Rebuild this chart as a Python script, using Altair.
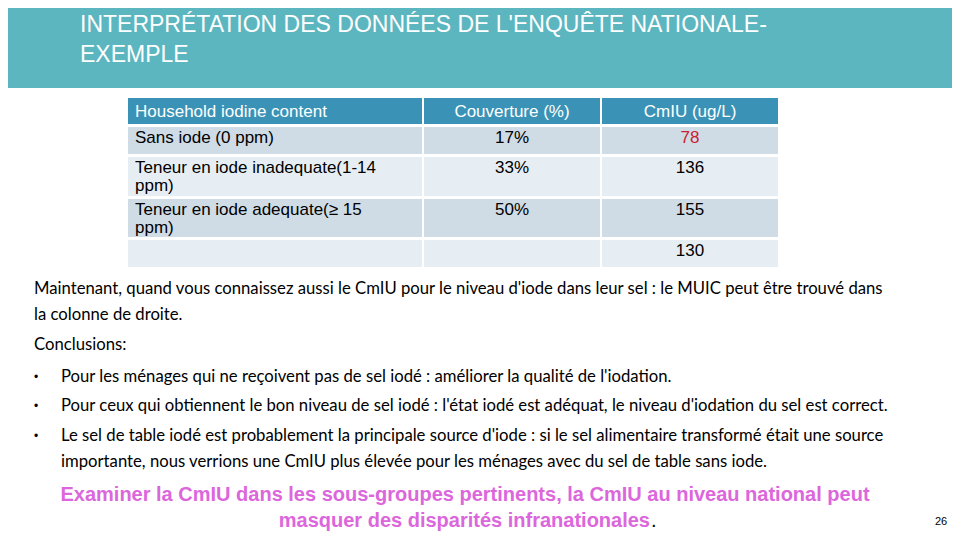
import altair as alt
import pandas as pd

# ---------------- data ----------------
title_lines = ["INTERPRÉTATION DES DONNÉES DE L'ENQUÊTE NATIONALE-", "EXEMPLE"]
header = ["Household iodine content", "Couverture (%)", "CmIU (ug/L)"]
categories = [["Sans iode (0 ppm)"],
              ["Teneur en iode inadequate(1-14", "ppm)"],
              ["Teneur en iode adequate(≥ 15", "ppm)"],
              [""]]
coverage = ["17%", "33%", "50%", ""]
cmiu = ["78", "136", "155", "130"]
cmiu_highlight = [True, False, False, False]

paragraph = [
    "Maintenant, quand vous connaissez aussi le CmIU pour le niveau d'iode dans leur sel : le MUIC peut être trouvé dans",
    "la colonne de droite.",
    "Conclusions:",
]
bullets = [
    ["Pour les ménages qui ne reçoivent pas de sel iodé : améliorer la qualité de l'iodation."],
    ["Pour ceux qui obtiennent le bon niveau de sel iodé : l'état iodé est adéquat, le niveau d'iodation du sel est correct."],
    ["Le sel de table iodé est probablement la principale source d'iode : si le sel alimentaire transformé était une source",
     "importante, nous verrions une CmIU plus élevée pour les ménages avec du sel de table sans iode."],
]
highlight_lines = ["Examiner la CmIU dans les sous-groupes pertinents, la CmIU au niveau national peut",
                   "masquer des disparités infranationales"]
page_number = "26"

# ---------------- layout ----------------
X0, X1 = 8, 952
Y0, Y1 = 8, 532
W, H = X1 - X0, Y1 - Y0

TEAL = "#5cb6c0"
HEAD = "#3a93b6"
DARK = "#cfdbe5"
LIGHT = "#e7eef3"
PINK = "#dc66dc"

col_edges = [(128, 422), (424, 600), (602, 778)]
row_edges = [(98, 124), (127, 154), (157, 196), (199, 237), (240, 267)]
line_gap = 18

xs = alt.Scale(domain=[X0, X1])
ys = alt.Scale(domain=[Y0, Y1], reverse=True)

def enc_xy():
    return dict(x=alt.X("x:Q", scale=xs, axis=None), y=alt.Y("y:Q", scale=ys, axis=None))

# rectangles
rects = [dict(x=0, x2=960, y=0, y2=88, c=TEAL)]
for (a, b) in col_edges:
    t, btm = row_edges[0]
    rects.append(dict(x=a, x2=b, y=t, y2=btm, c=HEAD))
for i, (t, btm) in enumerate(row_edges[1:]):
    for (a, b) in col_edges:
        rects.append(dict(x=a, x2=b, y=t, y2=btm, c=DARK if i % 2 == 0 else LIGHT))
rect_df = pd.DataFrame(rects)
rect_layer = alt.Chart(rect_df).mark_rect().encode(
    x=alt.X("x:Q", scale=xs, axis=None), x2="x2:Q",
    y=alt.Y("y:Q", scale=ys, axis=None), y2="y2:Q",
    color=alt.Color("c:N", scale=None),
)

def text_layer(rows, font, size, color_default="#000000", align="left", weight="normal"):
    df = pd.DataFrame(rows)
    if "c" not in df:
        df["c"] = color_default
    return alt.Chart(df).mark_text(font=font, fontSize=size, align=align, baseline="middle",
                                   fontWeight=weight).encode(
        **enc_xy(), text="t:N", color=alt.Color("c:N", scale=None))

# title
title_rows = [dict(x=80, y=25 + 30 * i, t=s) for i, s in enumerate(title_lines)]
title = alt.Chart(pd.DataFrame(title_rows)).mark_text(
    font="Liberation Sans", fontSize=23, align="left", baseline="middle",
    color="#ffffff").encode(**enc_xy(), text="t:N")

TABLE_SIZE = 17
# table header
hy = (row_edges[0][0] + row_edges[0][1]) / 2 + 0.5
head_left = text_layer([dict(x=col_edges[0][0] + 7, y=hy, t=header[0], c="#ffffff")], "Liberation Sans", TABLE_SIZE)
head_center = text_layer([dict(x=(a + b) / 2, y=hy, t=h, c="#ffffff") for (a, b), h in zip(col_edges[1:], header[1:])],
                         "Liberation Sans", TABLE_SIZE, align="center")

# table body
body_left_rows, body_center_rows = [], []
for i, (t, btm) in enumerate(row_edges[1:]):
    y = t + 11
    for j, line in enumerate(categories[i]):
        body_left_rows.append(dict(x=col_edges[0][0] + 7, y=y + j * line_gap, t=line))
    body_center_rows.append(dict(x=sum(col_edges[1]) / 2, y=y, t=coverage[i], c="#000000"))
    body_center_rows.append(dict(x=sum(col_edges[2]) / 2, y=y, t=cmiu[i],
                                 c="#cc2030" if cmiu_highlight[i] else "#000000"))
body_left = text_layer(body_left_rows, "Liberation Sans", TABLE_SIZE)
body_center = text_layer(body_center_rows, "Liberation Sans", TABLE_SIZE, align="center")

# paragraph text
para_rows = []
para_y = [289, 315, 345]
for s, y in zip(paragraph, para_y):
    para_rows.append(dict(x=34, y=y, t=s))
bullet_y = [[377], [406], [436, 462]]
bullet_rows = []
for lines, ys_ in zip(bullets, bullet_y):
    bullet_rows.append(dict(x=34, y=ys_[0], t="•"))
    for s, y in zip(lines, ys_):
        para_rows.append(dict(x=61, y=y, t=s))
para = text_layer(para_rows, "Lato", 16.7)
bullet_marks = text_layer(bullet_rows, "Liberation Sans", 12)

# highlighted conclusion
hl1 = text_layer([dict(x=465, y=495, t=highlight_lines[0], c=PINK)], "Liberation Sans", 20,
                 align="center", weight="bold")
hl2 = text_layer([dict(x=650, y=521, t=highlight_lines[1], c=PINK)], "Liberation Sans", 20,
                 align="right", weight="bold")
hl2dot = text_layer([dict(x=651, y=521, t=".", c="#000000")], "Liberation Sans", 20)
pnum = text_layer([dict(x=941, y=522, t=page_number)], "Liberation Sans", 11, align="center")

chart = alt.layer(rect_layer, title, head_left, head_center, body_left, body_center,
                  para, bullet_marks, hl1, hl2, hl2dot, pnum).properties(
    width=W, height=H, padding=0, autosize="none", background="#ffffff"
).configure_view(strokeWidth=0)

chart.save("out.html", embed_options={"renderer": "svg", "actions": False})
